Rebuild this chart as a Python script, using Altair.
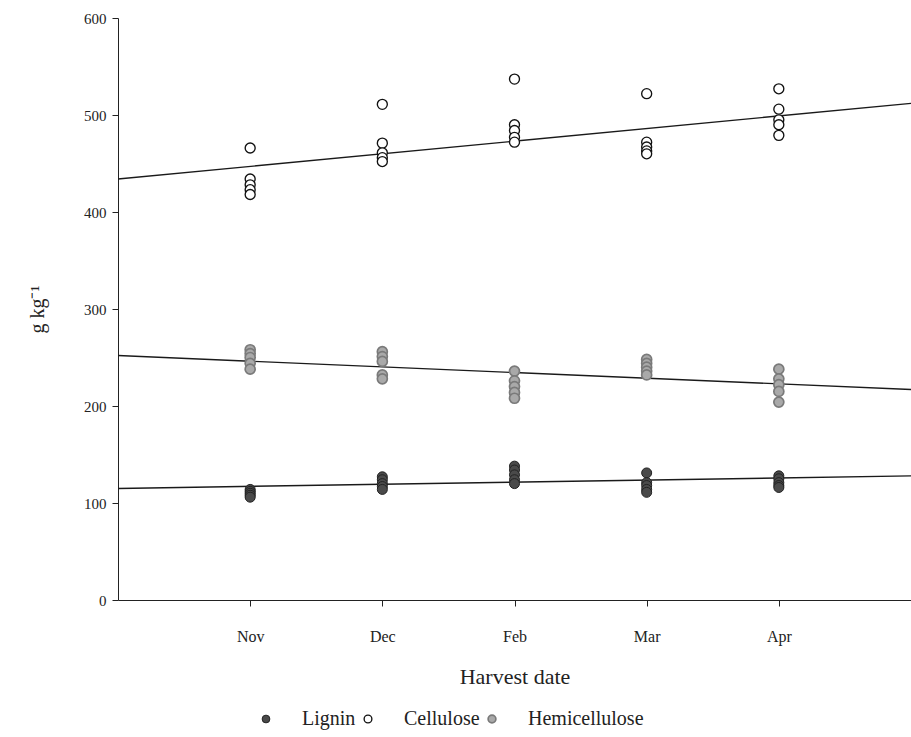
import altair as alt
import pandas as pd

# ---- data ----
months = ["Nov", "Dec", "Feb", "Mar", "Apr"]
positions = [1, 2, 3, 4, 5]
series_names = ["Lignin", "Cellulose", "Hemicellulose"]

lignin = [
    [114, 112, 110, 108, 106],
    [127, 124, 120, 117, 114],
    [138, 134, 129, 124, 120],
    [131, 121, 118, 114, 111],
    [128, 125, 121, 118, 116],
]
cellulose = [
    [466, 434, 428, 423, 418],
    [511, 471, 461, 456, 452],
    [537, 490, 484, 477, 472],
    [522, 472, 467, 463, 460],
    [527, 506, 495, 490, 479],
]
hemicellulose = [
    [258, 254, 250, 244, 238],
    [256, 251, 246, 232, 228],
    [236, 226, 220, 214, 208],
    [248, 244, 240, 236, 232],
    [238, 228, 222, 215, 204],
]

# fitted trend lines (value at x = 0 and x = 6)
line_x = [0, 6]
lignin_line = [115, 128]
cellulose_line = [434, 512]
hemicellulose_line = [252, 217]

fills = ["#4a4a4a", "#ffffff", "#a9a9a9"]
strokes = ["#222222", "#111111", "#7a7a7a"]
stroke_widths = [1.0, 1.7, 1.0]

# ---- tables ----
rows = []
for name, vals in zip(series_names, [lignin, cellulose, hemicellulose]):
    for p, m, group in zip(positions, months, vals):
        for v in group:
            rows.append({"series": name, "pos": p, "month": m, "value": v})
pts = pd.DataFrame(rows)

lrows = []
for name, ends in zip(series_names, [lignin_line, cellulose_line, hemicellulose_line]):
    for xv, yv in zip(line_x, ends):
        lrows.append({"series": name, "pos": xv, "value": yv})
lines = pd.DataFrame(lrows)

FONT = "Liberation Serif"

xscale = alt.Scale(domain=[0, 6], nice=False, zero=False)
yscale = alt.Scale(domain=[0, 600], nice=False)

label_expr = "['', 'Nov', 'Dec', 'Feb', 'Mar', 'Apr'][datum.value]"

x_axis = alt.Axis(
    values=positions, labelExpr=label_expr, title="Harvest date",
    grid=False, domainColor="#222", tickColor="#222", tickSize=6,
    labelFont=FONT, labelFontSize=16, labelColor="#222", labelPadding=22,
    titleFont=FONT, titleFontSize=22, titleFontWeight="normal", titleColor="#222",
    titlePadding=22,
)
y_axis = alt.Axis(
    values=[0, 100, 200, 300, 400, 500, 600], title="g kg⁻¹",
    grid=False, domainColor="#222", tickColor="#222", tickSize=6,
    labelFont=FONT, labelFontSize=15, labelColor="#222", labelPadding=6,
    titleFont=FONT, titleFontSize=20, titleFontWeight="normal", titleColor="#222",
    titlePadding=36,
)

line_layer = alt.Chart(lines).mark_line(color="#1a1a1a", strokeWidth=1.4).encode(
    x=alt.X("pos:Q", scale=xscale, axis=x_axis),
    y=alt.Y("value:Q", scale=yscale, axis=y_axis),
    detail="series:N",
)

point_layer = alt.Chart(pts).mark_point(
    shape="circle", filled=True, size=100, opacity=1
).encode(
    x=alt.X("pos:Q", scale=xscale),
    y=alt.Y("value:Q", scale=yscale),
    fill=alt.Fill("series:N", sort=series_names,
                  scale=alt.Scale(domain=series_names, range=fills),
                  legend=alt.Legend(title=None)),
    stroke=alt.Stroke("series:N", sort=series_names,
                      scale=alt.Scale(domain=series_names, range=strokes),
                      legend=alt.Legend(title=None)),
    strokeWidth=alt.StrokeWidth("series:N", sort=series_names,
                                scale=alt.Scale(domain=series_names, range=stroke_widths),
                                legend=None),
)

chart = alt.layer(line_layer, point_layer).properties(
    width=793, height=582,
    autosize=alt.AutoSizeParams(type="none"),
    padding={"left": 118, "top": 18, "right": 0, "bottom": 137},
    background="white",
).configure_view(stroke=None).configure_legend(
    orient="none", legendX=138, legendY=691, direction="horizontal",
    labelFont=FONT, labelFontSize=20, labelColor="#222",
    symbolSize=60, symbolStrokeWidth=1.2, labelOffset=26, columnPadding=2,
    symbolType="circle",
)

chart.save("out.html", embed_options={"renderer": "svg", "actions": False})
